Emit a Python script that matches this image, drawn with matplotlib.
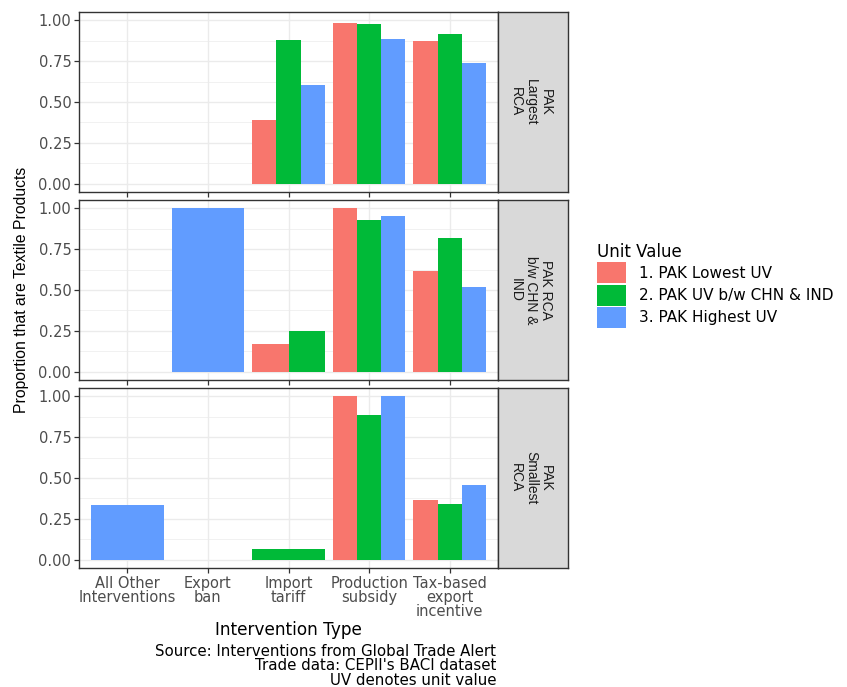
import numpy as np
import matplotlib
matplotlib.use("Agg")
import matplotlib.pyplot as plt
from matplotlib.patches import Patch

plt.rcParams['font.family'] = ['DejaVu Sans']
ROT_FONT = ['Liberation Sans', 'DejaVu Sans']

categories = ["All Other\nInterventions", "Export\nban", "Import\ntariff",
              "Production\nsubsidy", "Tax-based\nexport\nincentive"]
series = ["1. PAK Lowest UV", "2. PAK UV b/w CHN & IND", "3. PAK Highest UV"]
colors = ["#F8766D", "#00BA38", "#619CFF"]
panels = ["PAK\nLargest\nRCA", "PAK RCA\nb/w CHN &\nIND", "PAK\nSmallest\nRCA"]

nan = np.nan
# values per panel, per series, across categories
largest_low = [nan, nan, 0.39, 0.985, 0.87]
largest_mid = [nan, nan, 0.88, 0.975, 0.915]
largest_high = [nan, nan, 0.605, 0.885, 0.74]

bw_low = [nan, nan, 0.17, 1.00, 0.615]
bw_mid = [nan, nan, 0.25, 0.93, 0.815]
bw_high = [nan, 1.00, nan, 0.955, 0.52]

small_low = [nan, nan, nan, 1.00, 0.365]
small_mid = [nan, nan, 0.065, 0.885, 0.34]
small_high = [0.335, nan, nan, 1.00, 0.46]

data = [
    [largest_low, largest_mid, largest_high],
    [bw_low, bw_mid, bw_high],
    [small_low, small_mid, small_high],
]

W, H = 847, 687
fig = plt.figure(figsize=(W / 100, H / 100), dpi=100)

left_px, right_px = 79, 498
strip_w = 70
tops = [12, 200, 388]
ph = 180
grid_c = "#EBEBEB"
border_c = "#333333"
tick_c = "#4D4D4D"

for pi in range(3):
    top = tops[pi]
    ax = fig.add_axes([left_px / W, 1 - (top + ph) / H, (right_px - left_px) / W, ph / H])
    ax.set_facecolor("white")
    ax.set_xlim(0.4, 5.6)
    ax.set_ylim(-0.05, 1.05)
    ax.set_yticks([0, 0.25, 0.5, 0.75, 1.0])
    ax.set_yticklabels(["0.00", "0.25", "0.50", "0.75", "1.00"])
    ax.set_yticks([0.125, 0.375, 0.625, 0.875], minor=True)
    ax.set_xticks(np.arange(1, 6))
    ax.grid(True, which="major", color=grid_c, lw=1.0)
    ax.grid(True, which="minor", axis="y", color=grid_c, lw=0.5)
    ax.set_axisbelow(True)
    ax.tick_params(axis="both", which="major", length=3.5, color=border_c, width=0.9,
                   labelsize=10.5, labelcolor=tick_c, pad=2)
    ax.tick_params(axis="y", which="minor", length=0)
    for s in ax.spines.values():
        s.set_color(border_c)
        s.set_linewidth(1.0)
    if pi < 2:
        ax.set_xticklabels([])
    else:
        ax.set_xticklabels(categories, linespacing=0.94)

    vals = data[pi]
    for ci in range(len(categories)):
        present = [si for si in range(3) if not np.isnan(vals[si][ci])]
        n = len(present)
        if n == 0:
            continue
        bw = 0.9 / n
        for k, si in enumerate(present):
            x = ci + 1 - 0.45 + bw * (k + 0.5)
            ax.bar(x, vals[si][ci], width=bw, color=colors[si], linewidth=0)

    # facet strip
    sax = fig.add_axes([right_px / W, 1 - (top + ph) / H, strip_w / W, ph / H])
    sax.set_facecolor("#D9D9D9")
    sax.set_xticks([])
    sax.set_yticks([])
    for s in sax.spines.values():
        s.set_color(border_c)
        s.set_linewidth(1.0)
    sax.text(0.47, 0.5, panels[pi], rotation=-90, ha="center", va="center",
             multialignment="center", fontsize=10, color="#1A1A1A", family=ROT_FONT,
             transform=sax.transAxes, linespacing=1.09)

fig.text(22 / W, 1 - 290 / H, "Proportion that are Textile Products", rotation=90,
         ha="center", va="center", fontsize=11.3, family=ROT_FONT)
fig.text(288 / W, 1 - 630 / H, "Intervention Type", ha="center", va="center", fontsize=12.2)
fig.text(496 / W, 1 - 666 / H,
         "Source: Interventions from Global Trade Alert\nTrade data: CEPII's BACI dataset\nUV denotes unit value",
         ha="right", va="center", fontsize=10.8, linespacing=0.92)

handles = [Patch(facecolor=c, edgecolor="none") for c in colors]
leg = fig.legend(handles, series, title="Unit Value", loc="upper left",
                 bbox_to_anchor=(594 / W, 1 - 240 / H), frameon=False,
                 fontsize=11, title_fontsize=12, handlelength=1.9, handleheight=1.75,
                 handletextpad=0.85, labelspacing=0.08, borderaxespad=0, borderpad=0.2)
leg._legend_box.align = "left"

fig.savefig("out.png", dpi=100)
